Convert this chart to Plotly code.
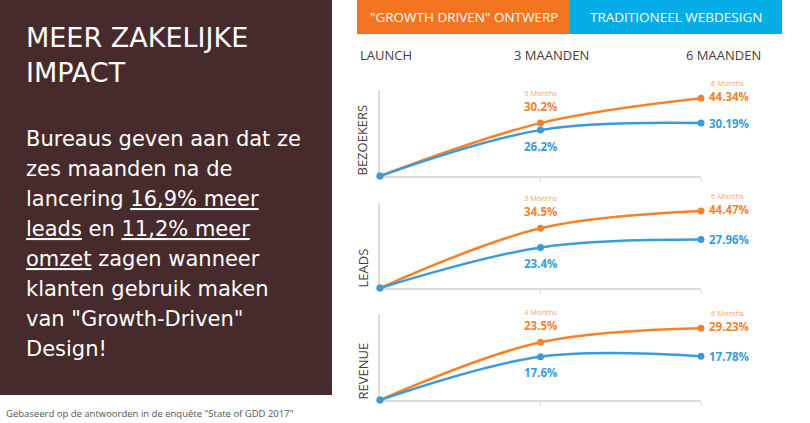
import plotly.graph_objects as go

W, H = 810, 423

# ---------------- data ----------------
periods = [0, 3, 6]
period_labels = ["LAUNCH", "3 MAANDEN", "6 MAANDEN"]
metrics = ["BEZOEKERS", "LEADS", "REVENUE"]
gdd_bezoekers = [0, 30.2, 44.34]
trad_bezoekers = [0, 26.2, 30.19]
gdd_leads = [0, 34.5, 44.47]
trad_leads = [0, 23.4, 27.96]
gdd_revenue = [0, 23.5, 29.23]
trad_revenue = [0, 17.6, 17.78]
series_names = ['"GROWTH DRIVEN" ONTWERP', "TRADITIONEEL WEBDESIGN"]

title_lines = ["MEER ZAKELIJKE", "IMPACT"]
body_lines = [
    "Bureaus geven aan dat ze",
    "zes maanden na de",
    "lancering <u>16,9% meer</u>",
    "<u>leads</u> en <u>11,2% meer</u>",
    "<u>omzet</u> zagen wanneer",
    "klanten gebruik maken",
    'van "Growth-Driven"',
    "Design!",
]
footer = 'Gebaseerd op de antwoorden in de enquête "State of GDD 2017"'

# ---------------- styling ----------------
ORANGE = "#F5822A"
BLUE = "#3A9BD9"
ORANGE_HDR = "#F47521"
BLUE_HDR = "#05ACE8"
BROWN = "#472A2B"
DARK = "#4A3A3A"
FONT = "Open Sans"
PANEL_FONT = "DejaVu Sans"

def px(x):
    return x / W

def py(y):
    return 1 - y / H

# chart pixel geometry: (top, baseline, ymax)
charts = [
    (90, 176, 49.1, gdd_bezoekers, trad_bezoekers),
    (203, 288, 49.1, gdd_leads, trad_leads),
    (314, 400, 35.0, gdd_revenue, trad_revenue),
]
X0, X1 = 380, 701

fig = go.Figure()
layout_axes = {}
annotations = []

for i, (top, base, ymax, gdd, trad) in enumerate(charts):
    n = "" if i == 0 else str(i + 1)
    xa, ya = "x" + n, "y" + n
    for vals, col in ((gdd, ORANGE), (trad, BLUE)):
        fig.add_trace(go.Scatter(
            x=periods, y=vals, xaxis=xa, yaxis=ya, mode="lines+markers",
            line=dict(color=col, width=2.5, shape="spline", smoothing=1.0),
            marker=dict(color=col, size=7), cliponaxis=False, showlegend=False,
            hoverinfo="skip"))
    layout_axes["xaxis" + n] = dict(
        domain=[px(X0), px(X1)], range=[0, 6], anchor=ya,
        showgrid=False, zeroline=False, showline=True, linecolor="#DDDDDD",
        linewidth=1.5, ticks="outside", tickvals=[3, 6], ticklen=4,
        tickcolor="#DDDDDD", showticklabels=False, fixedrange=True, layer="below traces")
    layout_axes["yaxis" + n] = dict(
        domain=[py(base), py(top)], range=[0, ymax], anchor=xa,
        showgrid=False, zeroline=False, showline=True, linecolor="#DDDDDD",
        linewidth=1.5, ticks="", showticklabels=False, fixedrange=True, layer="below traces")
    # metric label (rotated)
    annotations.append(dict(
        xref="paper", yref="paper", x=px(362), y=py(base + 2), text=metrics[i],
        textangle=-90, showarrow=False, xanchor="center", yanchor="bottom",
        font=dict(family=FONT, size=13, color=DARK)))
    # 3-month labels
    annotations.append(dict(
        xref=xa, yref=ya, x=periods[1], y=gdd[1], yshift=30, text="3 Months",
        showarrow=False, font=dict(family=FONT, size=7.5, color="#F7A36B")))
    annotations.append(dict(
        xref=xa, yref=ya, x=periods[1], y=gdd[1], yshift=17, text=f"<b>{gdd[1]}%</b>",
        showarrow=False, font=dict(family=FONT, size=11.5, color=ORANGE)))
    annotations.append(dict(
        xref=xa, yref=ya, x=periods[1], y=trad[1], yshift=-16, text=f"<b>{trad[1]}%</b>",
        showarrow=False, font=dict(family=FONT, size=11.5, color=BLUE)))
    # 6-month labels
    annotations.append(dict(
        xref=xa, yref=ya, x=periods[2], y=gdd[2], yshift=15, xshift=26, text="6 Months",
        showarrow=False, font=dict(family=FONT, size=7.5, color="#F7A36B")))
    annotations.append(dict(
        xref=xa, yref=ya, x=periods[2], y=gdd[2], yshift=2, xshift=6, xanchor="left",
        text=f"<b>{gdd[2]}%</b>", showarrow=False,
        font=dict(family=FONT, size=11.5, color=ORANGE)))
    annotations.append(dict(
        xref=xa, yref=ya, x=periods[2], y=trad[2], yshift=0, xshift=6, xanchor="left",
        text=f"<b>{trad[2]}%</b>", showarrow=False,
        font=dict(family=FONT, size=11.5, color=BLUE)))

# period labels
for lbl, xpx, anc in zip(period_labels, [358, 512, 763], ["left", "left", "right"]):
    annotations.append(dict(
        xref="paper", yref="paper", x=px(xpx), y=py(55), text=lbl, showarrow=False,
        xanchor=anc, yanchor="middle", font=dict(family=FONT, size=13, color=DARK)))

# header legend boxes
shapes = [
    dict(type="rect", xref="paper", yref="paper", x0=0, x1=px(332), y0=py(395), y1=1,
         fillcolor=BROWN, line=dict(width=0), layer="below"),
    dict(type="rect", xref="paper", yref="paper", x0=px(357), x1=px(570), y0=py(34), y1=1,
         fillcolor=ORANGE_HDR, line=dict(width=0), layer="below"),
    dict(type="rect", xref="paper", yref="paper", x0=px(570), x1=px(782), y0=py(34), y1=1,
         fillcolor=BLUE_HDR, line=dict(width=0), layer="below"),
]
for name, cx in zip(series_names, [463.5, 676]):
    annotations.append(dict(
        xref="paper", yref="paper", x=px(cx), y=py(17), text=name, showarrow=False,
        xanchor="center", yanchor="middle", font=dict(family=FONT, size=13.5, color="white")))

# left panel text
for k, line in enumerate(title_lines):
    annotations.append(dict(
        xref="paper", yref="paper", x=px(24), y=py(37 + 35 * k), text=line, showarrow=False,
        xanchor="left", yanchor="middle",
        font=dict(family=PANEL_FONT, size=27, color="white")))
for k, line in enumerate(body_lines):
    annotations.append(dict(
        xref="paper", yref="paper", x=px(24), y=py(139 + 30 * k), text=line, showarrow=False,
        xanchor="left", yanchor="middle",
        font=dict(family=PANEL_FONT, size=21, color="white")))
annotations.append(dict(
    xref="paper", yref="paper", x=px(4), y=py(413), text=footer, showarrow=False,
    xanchor="left", yanchor="middle", font=dict(family=FONT, size=9.5, color="#555555")))

fig.update_layout(
    width=W, height=H, margin=dict(l=0, r=0, t=0, b=0),
    paper_bgcolor="white", plot_bgcolor="rgba(0,0,0,0)",
    shapes=shapes, annotations=annotations, **layout_axes)

fig.write_html("out.html", config={"displayModeBar": False},
               post_script="document.body.style.margin='0px';")
